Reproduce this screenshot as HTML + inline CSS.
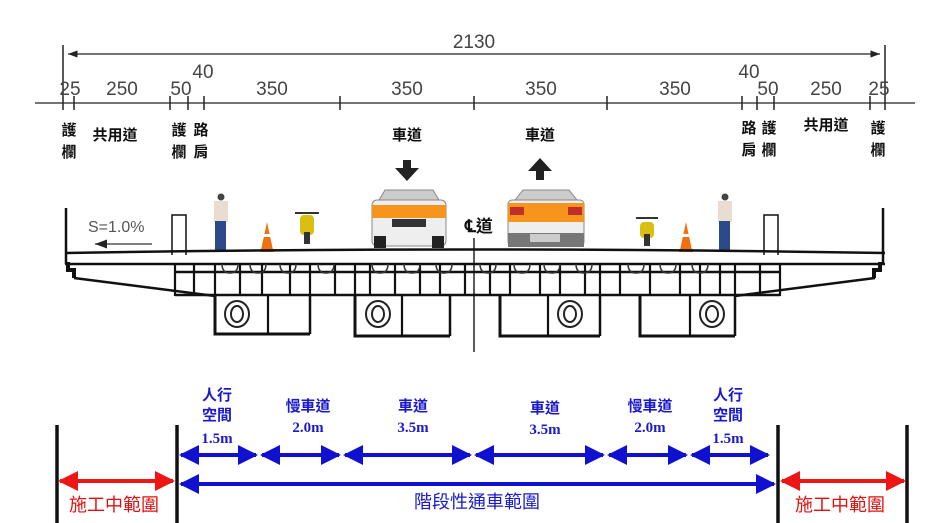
<!DOCTYPE html>
<html><head><meta charset="utf-8"><style>
html,body{margin:0;padding:0;background:#fff;width:937px;height:523px;overflow:hidden}
svg{display:block}
.d{font-family:"Liberation Sans","Noto Sans CJK TC",sans-serif;font-size:19px;fill:#444}
.c{font-family:"Liberation Sans","Noto Sans CJK TC",sans-serif;font-size:15px;font-weight:bold;fill:#111}
.b{font-family:"Liberation Sans","Noto Sans CJK TC",sans-serif;font-size:15px;font-weight:bold;fill:#1a1acc}
.bm{font-family:"Liberation Serif",serif;font-size:15px;font-weight:bold;fill:#1a1acc}
.r{font-family:"Liberation Sans","Noto Sans CJK TC",sans-serif;font-size:18px;fill:#e01010}
</style></head><body>
<svg width="937" height="523" viewBox="0 0 937 523" xmlns="http://www.w3.org/2000/svg">
<defs>
<marker id="ak" markerWidth="8" markerHeight="6" refX="8" refY="3" orient="auto-start-reverse"><path d="M0,0L8,3L0,6z" fill="#222"/></marker>
<marker id="ab" markerWidth="5" markerHeight="5" refX="4.5" refY="2.5" orient="auto-start-reverse"><path d="M0,0L5,2.5L0,5z" fill="#1010d0"/></marker>
<marker id="ar" markerWidth="5" markerHeight="5" refX="4.5" refY="2.5" orient="auto-start-reverse"><path d="M0,0L5,2.5L0,5z" fill="#ee1515"/></marker>
</defs>
<line x1="63" y1="45" x2="63" y2="110" stroke="#222" stroke-width="1.5"/>
<line x1="885" y1="45" x2="885" y2="110" stroke="#222" stroke-width="1.5"/>
<line x1="68" y1="54" x2="880" y2="54" stroke="#222" stroke-width="1.2" marker-start="url(#ak)" marker-end="url(#ak)"/>
<text x="474" y="48" class="d" text-anchor="middle">2130</text>
<line x1="35" y1="103" x2="915" y2="103" stroke="#222" stroke-width="1.2"/>
<g stroke="#222" stroke-width="1.5">
<line x1="74" y1="96" x2="74" y2="110"/><line x1="170" y1="96" x2="170" y2="110"/><line x1="188" y1="96" x2="188" y2="110"/><line x1="204" y1="96" x2="204" y2="110"/><line x1="340" y1="96" x2="340" y2="110"/><line x1="474" y1="96" x2="474" y2="110"/><line x1="607" y1="96" x2="607" y2="110"/><line x1="742" y1="96" x2="742" y2="110"/><line x1="757" y1="96" x2="757" y2="110"/><line x1="774" y1="96" x2="774" y2="110"/><line x1="870" y1="96" x2="870" y2="110"/>
</g>
<g class="d" text-anchor="middle">
<text x="70" y="95">25</text><text x="122" y="95">250</text><text x="181" y="95">50</text><text x="203" y="78">40</text>
<text x="272" y="95">350</text><text x="407" y="95">350</text><text x="541" y="95">350</text><text x="675" y="95">350</text>
<text x="749" y="78">40</text><text x="768" y="95">50</text><text x="826" y="95">250</text><text x="879" y="95">25</text>
</g>
<g class="c" text-anchor="middle">
<text x="69" y="135">護</text><text x="69" y="157">欄</text>
<text x="115" y="140">共用道</text>
<text x="179" y="135">護</text><text x="179" y="157">欄</text>
<text x="201" y="135">路</text><text x="201" y="157">肩</text>
<text x="407" y="140">車道</text><text x="540" y="140">車道</text>
<text x="749" y="133">路</text><text x="749" y="155">肩</text>
<text x="769" y="133">護</text><text x="769" y="155">欄</text>
<text x="826" y="130">共用道</text>
<text x="878" y="133">護</text><text x="878" y="155">欄</text>
</g>
<path d="M403,160h8v8h8l-12,13l-12,-13h8z" fill="#222"/>
<path d="M536,180h8v-9h8l-12,-13l-12,13h8z" fill="#222"/>
<g>
<rect x="372" y="200" width="74" height="46" rx="5" fill="#eee" stroke="#888"/>
<path d="M379,200l6,-10h48l6,10z" fill="#ccc" stroke="#888"/>
<rect x="372" y="205" width="74" height="13" fill="#f7941d"/>
<rect x="374" y="236" width="12" height="12" fill="#222"/><rect x="432" y="236" width="12" height="12" fill="#222"/>
<rect x="392" y="219" width="34" height="8" fill="#333"/>
</g>
<g>
<rect x="508" y="200" width="76" height="46" rx="4" fill="#eee" stroke="#888"/>
<path d="M515,200l8,-10h46l8,10z" fill="#ccc" stroke="#888"/>
<rect x="508" y="203" width="76" height="19" fill="#f7941d"/>
<rect x="510" y="207" width="14" height="8" fill="#c0302a"/><rect x="568" y="207" width="14" height="8" fill="#c0302a"/>
<rect x="508" y="233" width="76" height="14" fill="#777"/>
<rect x="530" y="234" width="30" height="8" fill="#ccc"/>
</g>
<text x="465" y="232" font-family="Liberation Sans,Noto Sans CJK TC,sans-serif" font-size="17" font-weight="bold" fill="#111">℄道</text>
<line x1="474" y1="238" x2="474" y2="352" stroke="#222" stroke-width="1.5"/>
<g>
<circle cx="221" cy="197" r="3.5" fill="#444"/><rect x="214" y="201" width="14" height="21" fill="#e8ddd0"/><rect x="215" y="221" width="11" height="30" fill="#2a4a8a"/>
<circle cx="725" cy="197" r="3.5" fill="#444"/><rect x="718" y="201" width="14" height="21" fill="#e8ddd0"/><rect x="719" y="221" width="11" height="30" fill="#2a4a8a"/>
<rect x="300" y="215" width="14" height="20" rx="4" fill="#d9c010"/><rect x="304" y="232" width="6" height="12" fill="#333"/><line x1="295" y1="213" x2="319" y2="213" stroke="#333" stroke-width="2"/>
<rect x="640" y="222" width="14" height="16" rx="4" fill="#d9c010"/><rect x="644" y="234" width="6" height="12" fill="#333"/><line x1="636" y1="218" x2="658" y2="218" stroke="#333" stroke-width="2"/>
<path d="M267,222l-6,28h12z" fill="#f07010"/><rect x="263" y="234" width="8" height="3" fill="#fff"/><rect x="260" y="249" width="14" height="3" fill="#f07010"/>
<path d="M686,222l-6,28h12z" fill="#f07010"/><rect x="682" y="234" width="8" height="3" fill="#fff"/><rect x="679" y="249" width="14" height="3" fill="#f07010"/>
</g>
<text x="88" y="232" font-family="Liberation Sans,sans-serif" font-size="16" fill="#555">S=1.0%</text>
<line x1="95" y1="244" x2="152" y2="244" stroke="#555" stroke-width="1.5" marker-start="url(#ak)"/>
<g fill="none" stroke="#111" stroke-width="2.5">
<path d="M65,253Q474,246 885,253"/>
<line x1="65" y1="264" x2="885" y2="264"/>
<line x1="66" y1="208" x2="66" y2="264"/><line x1="883" y1="208" x2="883" y2="264"/>
<path d="M68,262v8h6v8M880,262v8h-6v8" stroke-width="4"/>
<path d="M74,278L215,296M875,278L735,296"/>
<line x1="175" y1="272" x2="780" y2="272"/>
<line x1="175" y1="295" x2="780" y2="295"/>
<path d="M172,255v-40h14v40M764,255v-40h14v40" stroke-width="1.5"/>
<path d="M215,296v38h95M355,296v40h95M500,296v40h100M640,296v40h95" stroke-width="3"/>
<path d="M310,296v38M450,296v40M600,296v40M735,296v40"/>
</g>
<g stroke="#111" stroke-width="2.2" fill="none">
<path d="M175,264v32M194,264v32M215,264v32M240,264v32M262,264v32M290,264v32M310,264v32M335,264v32M355,264v32M370,264v32M395,264v32M420,264v32M440,264v32M465,264v32M490,264v32M510,264v32M540,264v32M560,264v32M585,264v32M600,264v32M620,264v32M650,264v32M680,264v32M700,264v32M720,264v32M735,264v32M760,264v32M780,264v32"/>
<path d="M268,296v38M402,296v40M548,296v40M690,296v40"/>
</g>
<g fill="none" stroke="#222" stroke-width="2">
<ellipse cx="237" cy="314" rx="12" ry="13"/><ellipse cx="237" cy="314" rx="6" ry="8"/>
<ellipse cx="378" cy="314" rx="12" ry="13"/><ellipse cx="378" cy="314" rx="6" ry="8"/>
<ellipse cx="570" cy="314" rx="12" ry="13"/><ellipse cx="570" cy="314" rx="6" ry="8"/>
<ellipse cx="712" cy="314" rx="12" ry="13"/><ellipse cx="712" cy="314" rx="6" ry="8"/>
</g>
<g fill="none" stroke="#333" stroke-width="1.5">
<path d="M222,264q0,9 8,9q8,0 8,-9M250,264q0,9 8,9q8,0 8,-9M280,264q0,9 8,9q8,0 8,-9M318,264q0,9 8,9q8,0 8,-9M372,264q0,9 8,9q8,0 8,-9M404,264q0,9 8,9q8,0 8,-9M436,264q0,9 8,9q8,0 8,-9M480,264q0,9 8,9q8,0 8,-9M514,264q0,9 8,9q8,0 8,-9M544,264q0,9 8,9q8,0 8,-9M576,264q0,9 8,9q8,0 8,-9M628,264q0,9 8,9q8,0 8,-9M660,264q0,9 8,9q8,0 8,-9M692,264q0,9 8,9q8,0 8,-9"/>
</g>
<g stroke="#111" stroke-width="3.5">
<line x1="57" y1="425" x2="57" y2="523"/><line x1="177" y1="425" x2="177" y2="523"/>
<line x1="778" y1="425" x2="778" y2="523"/><line x1="907" y1="425" x2="907" y2="523"/>
</g>
<g stroke="#1010d0" stroke-width="4">
<line x1="181" y1="455" x2="256" y2="455" marker-start="url(#ab)" marker-end="url(#ab)"/>
<line x1="262" y1="455" x2="339" y2="455" marker-start="url(#ab)" marker-end="url(#ab)"/>
<line x1="345" y1="455" x2="470" y2="455" marker-start="url(#ab)" marker-end="url(#ab)"/>
<line x1="476" y1="455" x2="603" y2="455" marker-start="url(#ab)" marker-end="url(#ab)"/>
<line x1="609" y1="455" x2="686" y2="455" marker-start="url(#ab)" marker-end="url(#ab)"/>
<line x1="692" y1="455" x2="768" y2="455" marker-start="url(#ab)" marker-end="url(#ab)"/>
<line x1="181" y1="484" x2="774" y2="484" marker-start="url(#ab)" marker-end="url(#ab)"/>
</g>
<g stroke="#ee1515" stroke-width="4">
<line x1="60" y1="481" x2="173" y2="481" marker-start="url(#ar)" marker-end="url(#ar)"/>
<line x1="782" y1="481" x2="904" y2="481" marker-start="url(#ar)" marker-end="url(#ar)"/>
</g>
<g text-anchor="middle">
<text x="217" y="400" class="b">人行</text><text x="217" y="420" class="b">空間</text><text x="217" y="443" class="bm">1.5m</text>
<text x="308" y="411" class="b">慢車道</text><text x="308" y="432" class="bm">2.0m</text>
<text x="413" y="411" class="b">車道</text><text x="413" y="432" class="bm">3.5m</text>
<text x="545" y="413" class="b">車道</text><text x="545" y="434" class="bm">3.5m</text>
<text x="650" y="411" class="b">慢車道</text><text x="650" y="432" class="bm">2.0m</text>
<text x="728" y="400" class="b">人行</text><text x="728" y="420" class="b">空間</text><text x="728" y="443" class="bm">1.5m</text>
<text x="477" y="508" class="b" style="font-size:18px;font-weight:normal">階段性通車範圍</text>
<text x="114" y="511" class="r">施工中範圍</text>
<text x="840" y="511" class="r">施工中範圍</text>
</g>
</svg>
</body></html>
